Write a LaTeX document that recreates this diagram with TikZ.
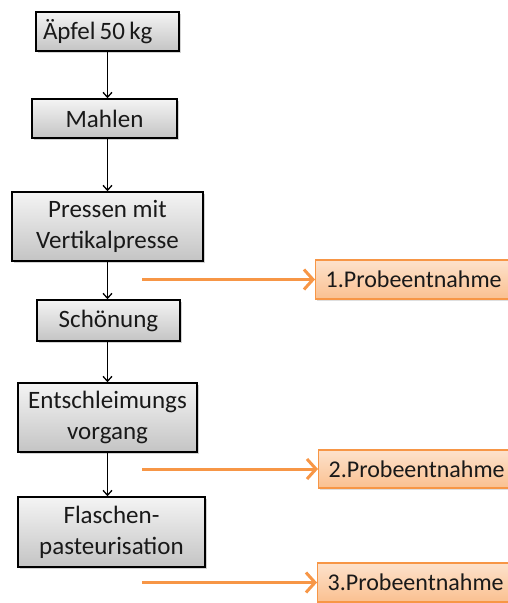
\documentclass[tikz,border=0pt]{standalone}
\usepackage{fontspec}
\setmainfont{Carlito}
\usetikzlibrary{arrows.meta,shadows}
\definecolor{orangeline}{HTML}{F79646}
\definecolor{peachtop}{HTML}{FDE2CC}
\definecolor{peachbot}{HTML}{FAC090}
\definecolor{graytop}{HTML}{F4F4F4}
\definecolor{graybot}{HTML}{C4C4C4}
\tikzset{
  stepbox/.style={draw=black, line width=1.5pt, top color=graytop, bottom color=graybot,
    drop shadow={shadow xshift=1.5pt, shadow yshift=-1.5pt, opacity=0.35},
    align=center, inner sep=0pt, font=\fontsize{25}{31}\selectfont, text=black!90},
  probebox/.style={draw=orangeline, line width=1.3pt, top color=peachtop, bottom color=peachbot,
    drop shadow={shadow xshift=1.5pt, shadow yshift=-1.5pt, opacity=0.25},
    anchor=west, minimum width=210pt, text width=190pt, align=left, inner xsep=10pt, inner ysep=0pt,
    font=\fontsize{24}{30}\selectfont, text=black!90},
  flow/.style={draw=black, line width=1.4pt, -{Straight Barb[length=5pt,width=9pt,line width=1.3pt]}},
  probe/.style={draw=orangeline, line width=3pt, -{Straight Barb[length=9pt,width=20pt,line width=3pt]}}
}
\begin{document}
\begin{tikzpicture}[x=1pt,y=-1pt]
\clip (0,0) rectangle (508,603);
\useasboundingbox (0,0) rectangle (508,603);
\node[stepbox, minimum width=143pt, minimum height=39pt, text width=129pt, align=left] (a) at (107.5,31.5) {Äpfel\,50\,kg};
\node[stepbox, minimum width=145pt, minimum height=39pt] (b) at (104.5,118.5) {Mahlen};
\node[stepbox, minimum width=191pt, minimum height=69pt] (c) at (107.5,226.5) {Pressen mit\\Vertikalpresse};
\node[stepbox, minimum width=143pt, minimum height=41pt] (d) at (108.5,320.5) {Schönung};
\node[stepbox, minimum width=179pt, minimum height=69pt] (e) at (107.5,417.5) {Entschleimungs\\vorgang};
\node[stepbox, minimum width=187pt, minimum height=70pt] (f) at (111.5,532) {Flaschen-\\pasteurisation};

\node[probebox, minimum height=39pt] (p1) at (315,279.5) {1.Probeentnahme};
\node[probebox, minimum height=38pt] (p2) at (318,469) {2.Probeentnahme};
\node[probebox, minimum height=39pt] (p3) at (317,582.5) {3.Probeentnahme};

\coordinate (s1) at (142,279.5);
\coordinate (s2) at (142,469);
\coordinate (s3) at (142,582.5);

\draw[flow] (a.south) -- (a.south |- b.north);
\draw[flow] (a.south |- b.south) -- (a.south |- c.north);
\draw[flow] (a.south |- c.south) -- (a.south |- d.north);
\draw[flow] (a.south |- d.south) -- (a.south |- e.north);
\draw[flow] (a.south |- e.south) -- (a.south |- f.north);

\draw[probe] (s1) -- (p1.west);
\draw[probe] (s2) -- (p2.west);
\draw[probe] (s3) -- (p3.west);
\end{tikzpicture}
\end{document}
